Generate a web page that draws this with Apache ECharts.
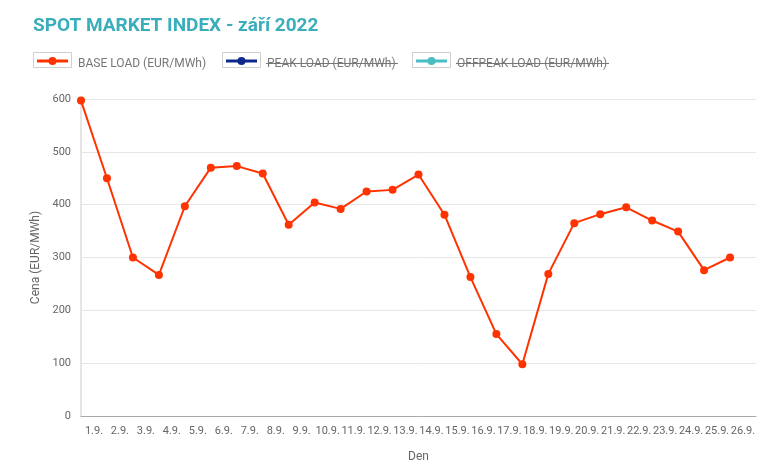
<!DOCTYPE html>
<html><head><meta charset="utf-8">
<script src="https://cdn.jsdelivr.net/npm/echarts@6/dist/echarts.min.js"></script>
<style>html,body{margin:0;padding:0;background:#fff}#c{width:780px;height:476px}</style>
</head><body><div id="c"></div>
<script>
const titleText = 'SPOT MARKET INDEX - září 2022';
const days = ['1.9.','2.9.','3.9.','4.9.','5.9.','6.9.','7.9.','8.9.','9.9.','10.9.','11.9.','12.9.','13.9.','14.9.','15.9.','16.9.','17.9.','18.9.','19.9.','20.9.','21.9.','22.9.','23.9.','24.9.','25.9.','26.9.'];
const baseLoad = [597,450,300,267,397,470,473,459,362,404,392,425,428,457,381,263,155,98,269,365,382,395,370,349,276,300];
const seriesNames = ['BASE LOAD (EUR/MWh)','PEAK LOAD (EUR/MWh)','OFFPEAK LOAD (EUR/MWh)'];
const seriesColors = ['#ff3300','#0d2a8a','#4bbcc4'];
const seriesHidden = [false,true,true];
const yTicks = [0,100,200,300,400,500,600];

const FONT = 'Roboto, "Noto Sans", sans-serif';
const chart = echarts.init(document.getElementById('c'));

const legendX = [33, 222, 412];
const textW = [129, 132, 153];
const gfx = [];
seriesNames.forEach((n, i) => {
  const x = legendX[i];
  gfx.push({type:'rect', shape:{x:x+0.5, y:52.5, width:38, height:15}, style:{fill:'#fff', stroke:'#cfcfcf', lineWidth:1}, silent:true});
  gfx.push({type:'line', shape:{x1:x+4, y1:61, x2:x+35, y2:61}, style:{stroke:seriesColors[i], lineWidth:3}, silent:true});
  gfx.push({type:'circle', shape:{cx:x+19.5, cy:61, r:4}, style:{fill:seriesColors[i]}, silent:true});
  gfx.push({type:'text', x:x+45, y:63.5, style:{text:n, fill:'#777', font:'12px ' + FONT, textVerticalAlign:'middle', textAlign:'left'}, silent:true});
  if (seriesHidden[i]) {
    gfx.push({type:'line', shape:{x1:x+44, y1:63.5, x2:x+44+textW[i], y2:63.5}, style:{stroke:'#777', lineWidth:1}, silent:true});
  }
});

chart.setOption({
  animation:false,
  textStyle:{fontFamily:FONT},
  title:{text:titleText, left:33, top:17, padding:0, textStyle:{color:'#3aaebb', fontSize:19, fontWeight:'bold', fontFamily:FONT}},
  graphic:gfx,
  grid:{left:81, right:24, top:99, bottom:60},
  xAxis:[
    {type:'category', data:days, boundaryGap:true, name:'Den', nameLocation:'middle', nameGap:35,
     nameTextStyle:{color:'#666', fontSize:12},
     axisLine:{lineStyle:{color:'#aaa'}}, axisTick:{show:false},
     axisLabel:{interval:0, color:'#666', fontSize:11, margin:10}},
    {type:'category', data:days.concat(['']), boundaryGap:false, show:false}
  ],
  yAxis:{type:'value', min:yTicks[0], max:yTicks[yTicks.length-1], interval:100,
    name:'Cena (EUR/MWh)', nameLocation:'middle', nameGap:33, nameTextStyle:{color:'#666', fontSize:12},
    axisLine:{show:true, lineStyle:{color:'#e6e6e6', width:2}}, axisTick:{show:false},
    axisLabel:{color:'#666', fontSize:11, margin:10},
    splitLine:{lineStyle:{color:'#e6e6e6'}}},
  series:[{name:seriesNames[0], type:'line', xAxisIndex:1, data:baseLoad,
    symbol:'circle', symbolSize:8, showAllSymbol:true,
    lineStyle:{color:seriesColors[0], width:2}, itemStyle:{color:seriesColors[0]}}]
});
</script></body></html>
